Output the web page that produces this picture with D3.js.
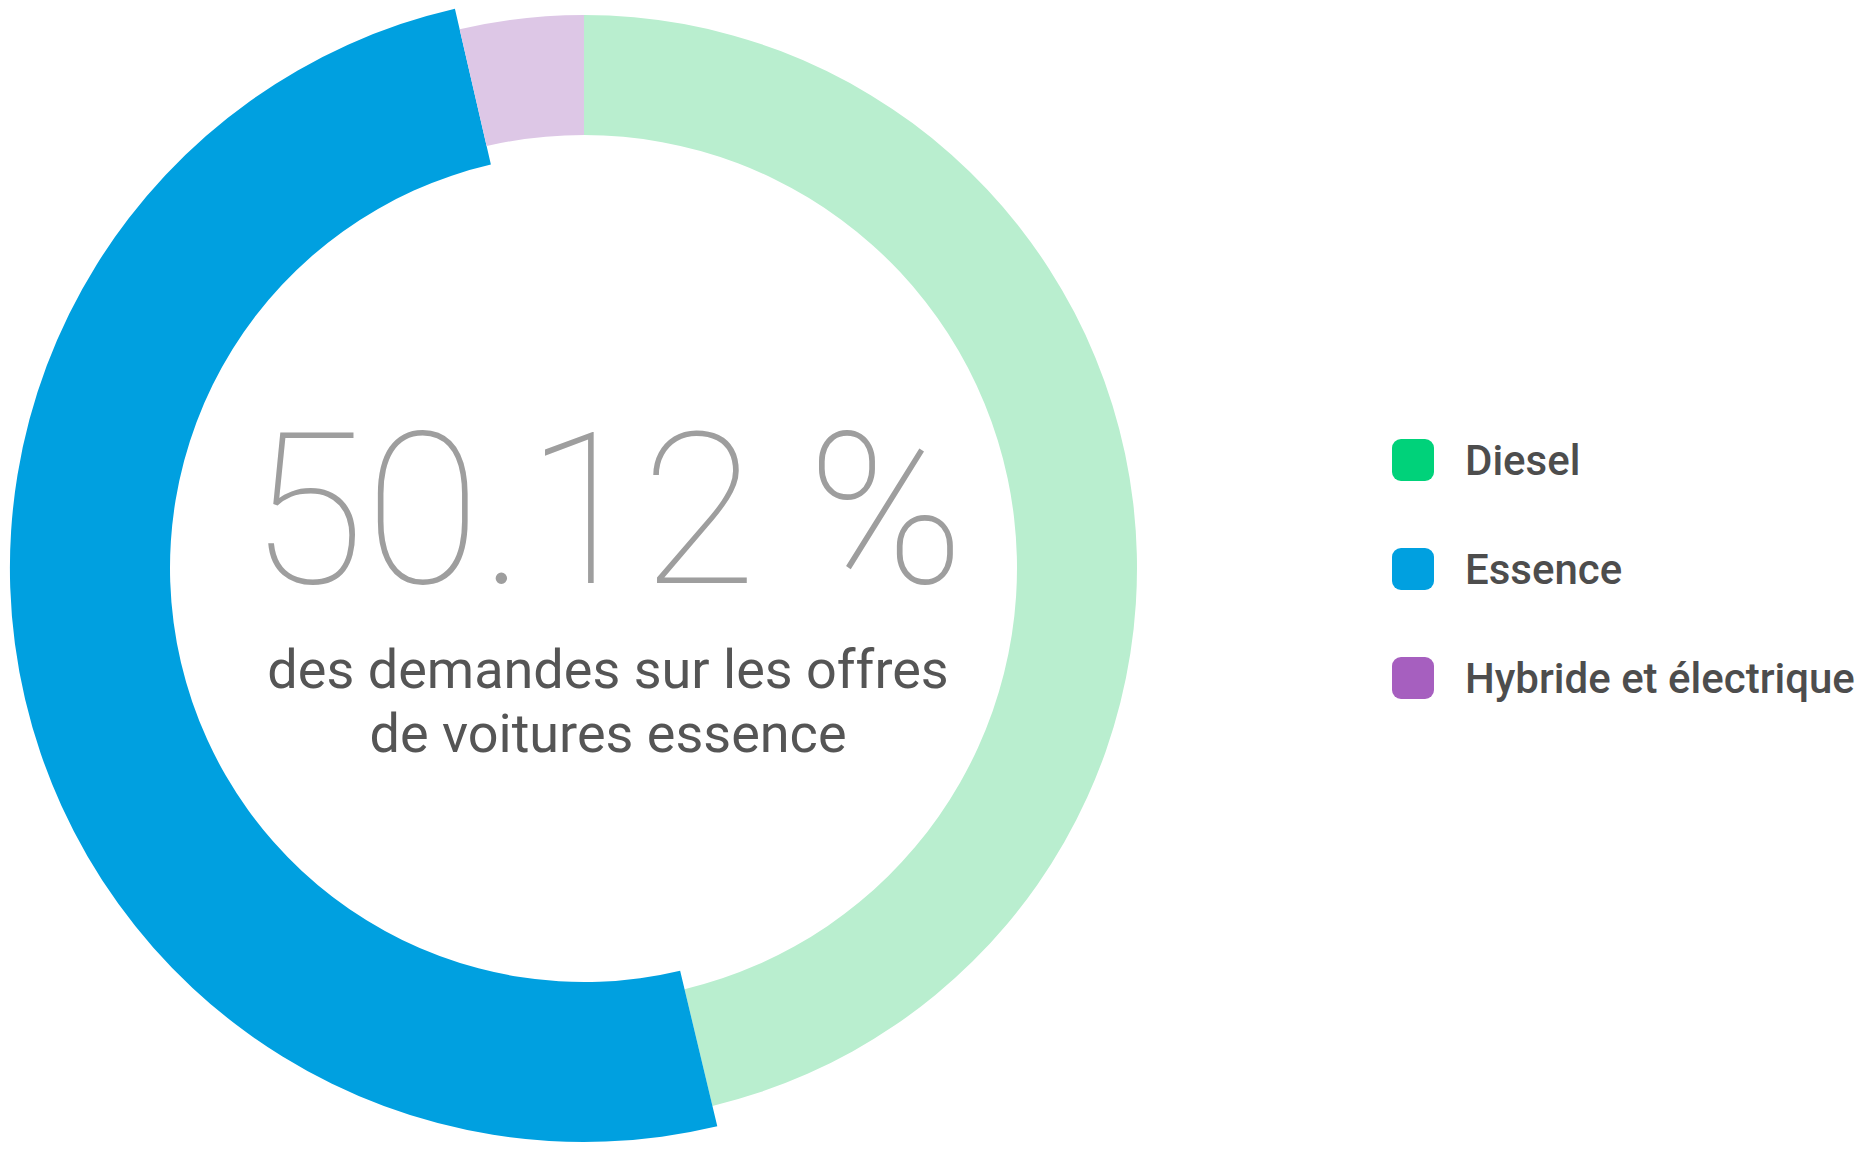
<!DOCTYPE html>
<html>
<head>
<meta charset="utf-8">
<script src="https://cdn.jsdelivr.net/npm/d3@7"></script>
<style>
  html, body { margin: 0; padding: 0; background: #fff; }
  svg { display: block; }
</style>
</head>
<body>
<div id="chart"></div>
<script>
// data
var categories = ["Diesel", "Essence", "Hybride et électrique"];
var values = [46.27, 50.12, 3.61];
var activeIndex = 1;
var centerValue = "50.12 %";
var centerLines = ["des demandes sur les offres", "de voitures essence"];

var legendColors = ["#00d27a", "#00a0e0", "#a65fbf"];
var sliceColors = ["#b9eecf", "#00a0e0", "#ddc7e6"];

var width = 1866,
    height = 1152,
    cx = 584,
    cy = 568,
    innerR = 433,
    outerR = 553,
    activeInner = 414,
    activeOuter = 574;

var svg = d3.select("#chart").append("svg")
    .attr("width", width)
    .attr("height", height);

var pie = d3.pie().sort(null).value(function(d) { return d; });

var arc = d3.arc()
    .innerRadius(function(d) { return d.index === activeIndex ? activeInner : innerR; })
    .outerRadius(function(d) { return d.index === activeIndex ? activeOuter : outerR; });

var donut = svg.append("g").attr("transform", "translate(" + cx + "," + cy + ")");

donut.selectAll("path").data(pie(values)).enter().append("path")
    .attr("d", arc)
    .attr("fill", function(d) { return sliceColors[d.index]; });

// center text
var center = svg.append("g").attr("transform", "translate(608,0)");

center.append("text")
    .attr("x", -1)
    .attr("y", 583)
    .attr("text-anchor", "middle")
    .attr("font-family", "Roboto")
    .attr("font-weight", 100)
    .attr("font-size", 211)
    .attr("fill", "#9e9e9e")
    .text(centerValue);

center.selectAll("text.sub").data(centerLines).enter().append("text")
    .attr("class", "sub")
    .attr("x", 0)
    .attr("y", function(d, i) { return 688 + i * 64; })
    .attr("text-anchor", "middle")
    .attr("font-family", "Roboto")
    .attr("font-weight", 400)
    .attr("font-size", 54)
    .attr("fill", "#555555")
    .text(function(d) { return d; });

// legend
var legend = svg.append("g").attr("transform", "translate(1392,460)");

var item = legend.selectAll("g").data(categories).enter().append("g")
    .attr("transform", function(d, i) { return "translate(0," + (i * 109) + ")"; });

item.append("rect")
    .attr("x", 0)
    .attr("y", -21)
    .attr("width", 42)
    .attr("height", 42)
    .attr("rx", 9)
    .attr("fill", function(d, i) { return legendColors[i]; });

item.append("text")
    .attr("x", 73)
    .attr("y", 15)
    .attr("font-family", "Roboto")
    .attr("font-weight", 500)
    .attr("font-size", 42)
    .attr("fill", "#4d4d4d")
    .text(function(d) { return d; });
</script>
</body>
</html>
